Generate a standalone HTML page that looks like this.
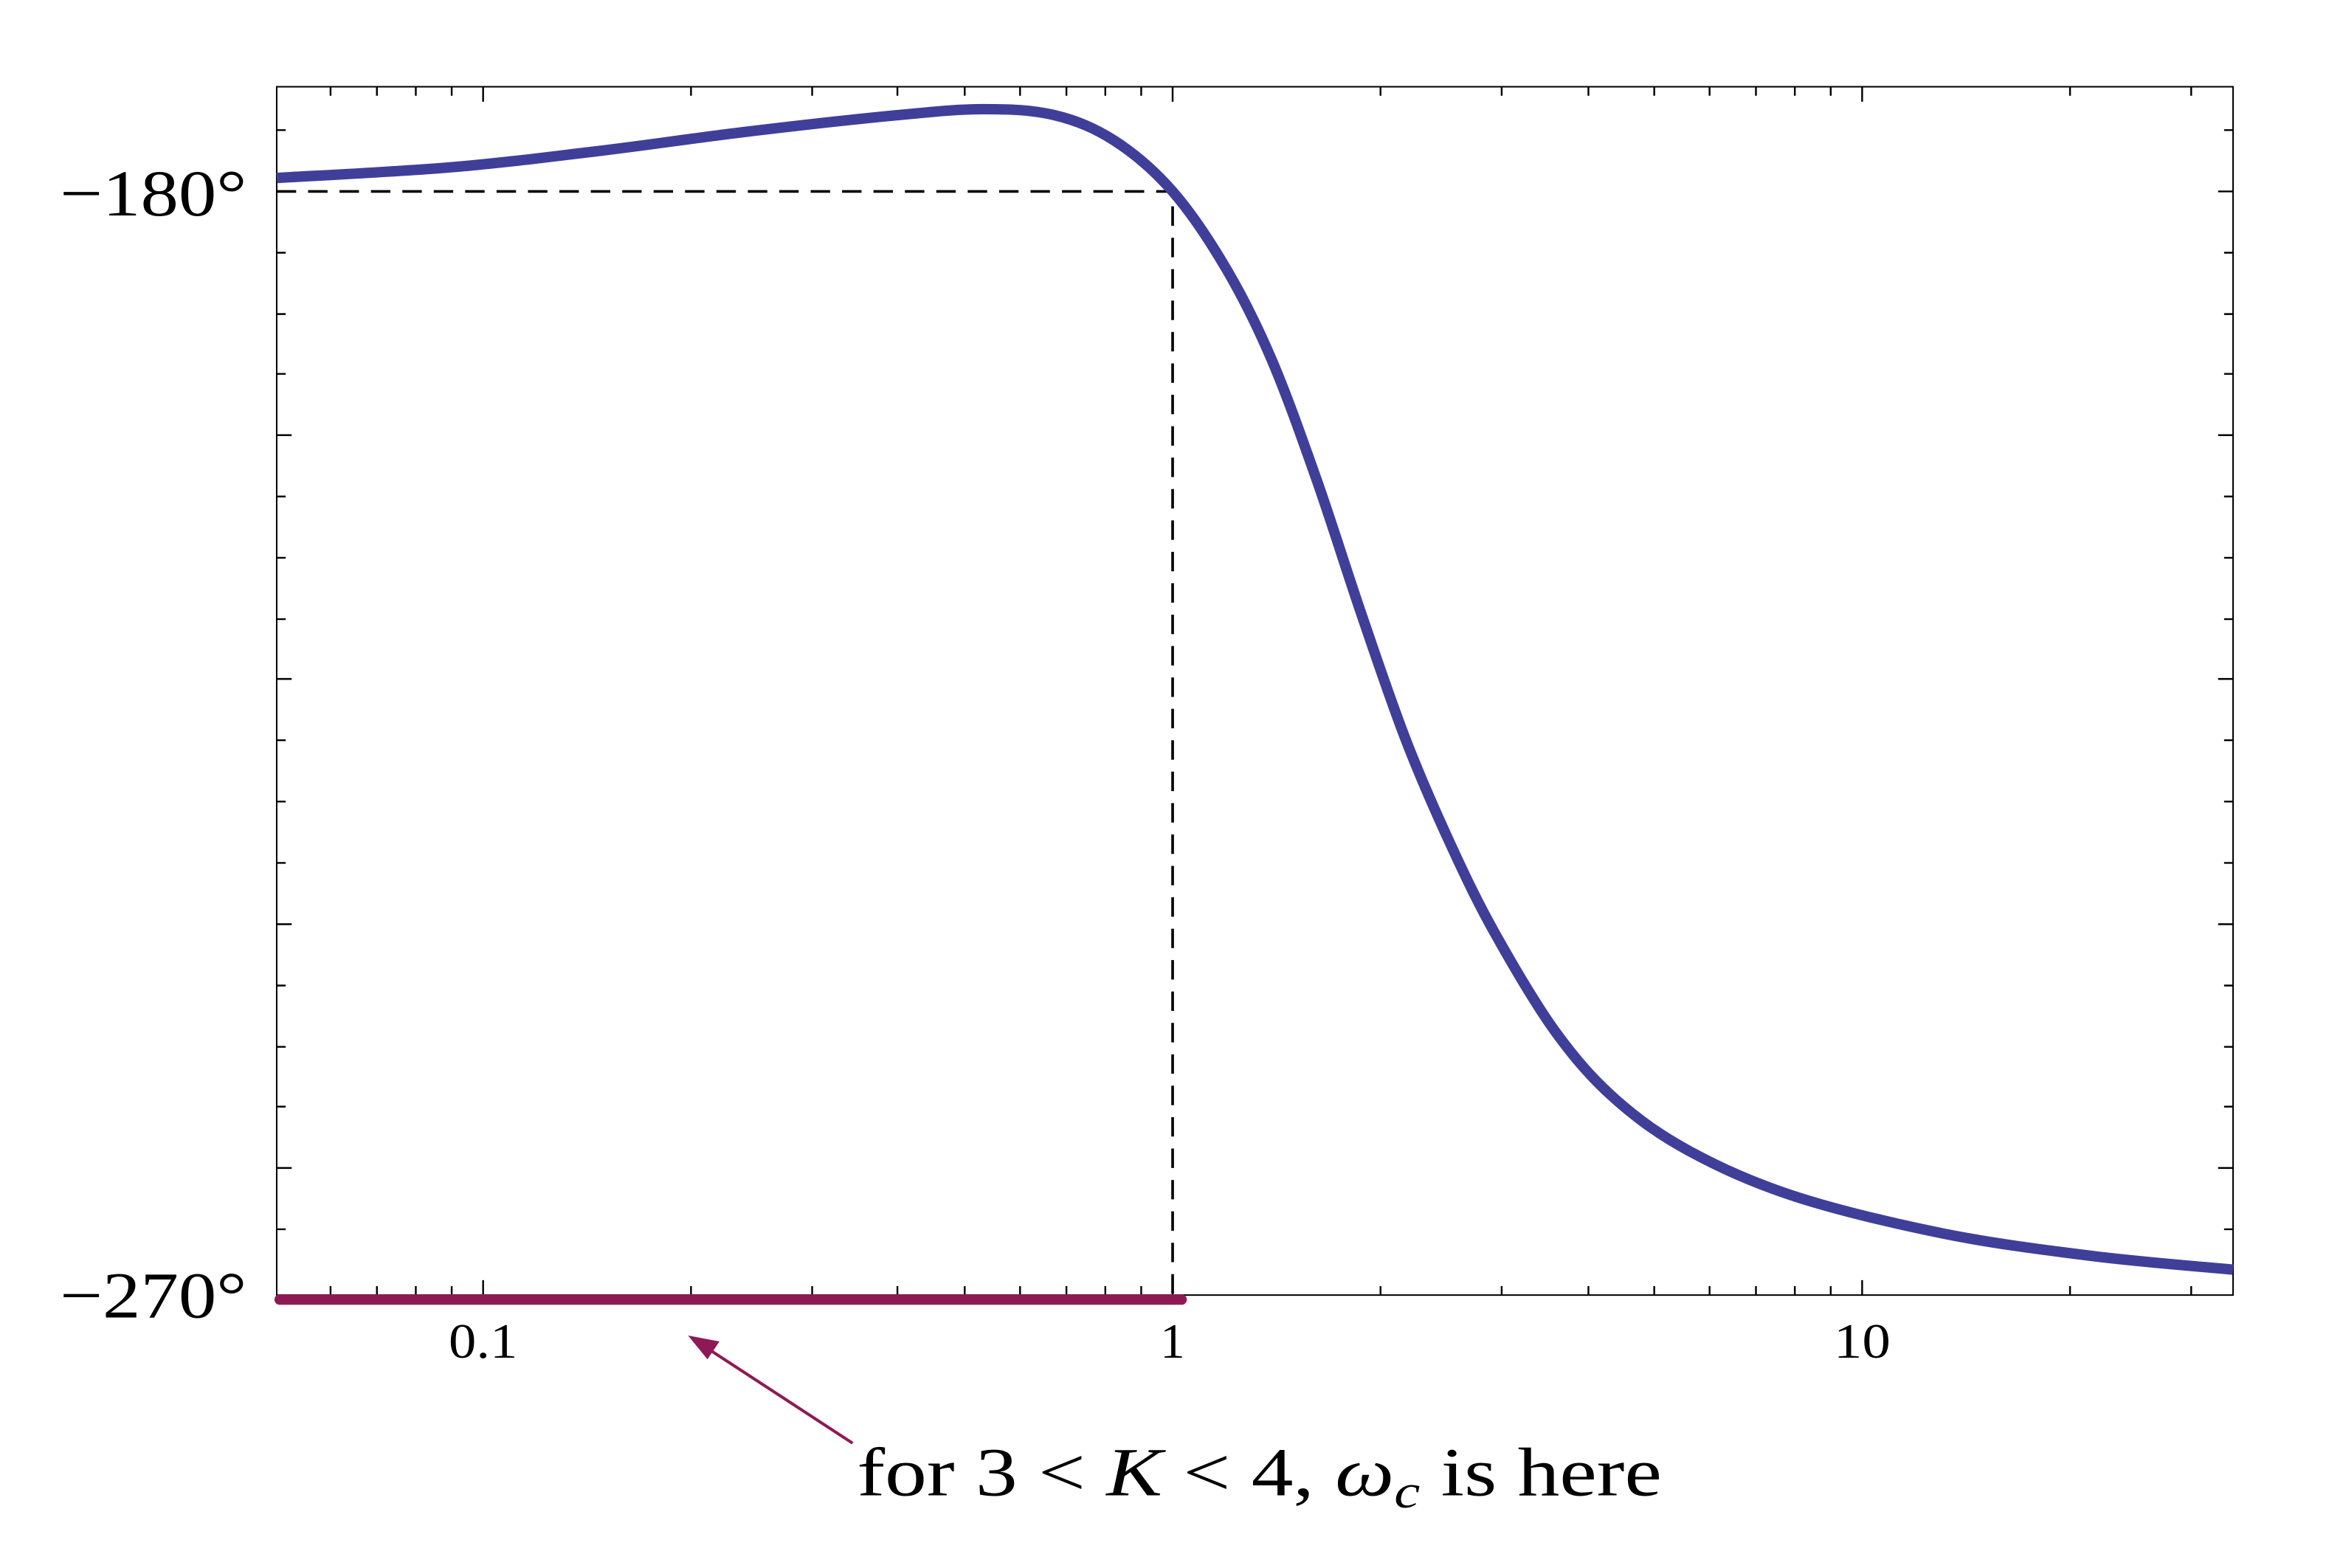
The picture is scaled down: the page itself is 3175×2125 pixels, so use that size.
<!DOCTYPE html>
<html><head><meta charset="utf-8"><style>html,body{margin:0;padding:0;background:#fff}svg{display:block}</style></head>
<body>
<svg width="3175" height="2125" viewBox="0 0 1566.5 1048.5" preserveAspectRatio="none" xmlns="http://www.w3.org/2000/svg" font-family="Liberation Serif, serif">
<rect x="185" y="58" width="1308" height="808" fill="none" stroke="#000" stroke-width="1"/>
<g stroke="#000" stroke-width="1.2">
<path d="M323 866v-10M784 866v-10M1245 866v-10M323 58v10M784 58v10M1245 58v10"/>
<path d="M221 866v-6M252 866v-6M278 866v-6M302 866v-6M462 866v-6M543 866v-6M600 866v-6M645 866v-6M682 866v-6M713 866v-6M739 866v-6M763 866v-6M923 866v-6M1004 866v-6M1062 866v-6M1106 866v-6M1143 866v-6M1174 866v-6M1200 866v-6M1224 866v-6M1384 866v-6M1465 866v-6"/>
<path d="M221 58v6M252 58v6M278 58v6M302 58v6M462 58v6M543 58v6M600 58v6M645 58v6M682 58v6M713 58v6M739 58v6M763 58v6M923 58v6M1004 58v6M1062 58v6M1106 58v6M1143 58v6M1174 58v6M1200 58v6M1224 58v6M1384 58v6M1465 58v6"/>
<path d="M185 128h10M185 291h10M185 454h10M185 618h10M185 781h10M1493 128h-10M1493 291h-10M1493 454h-10M1493 618h-10M1493 781h-10"/>
<path d="M185 87h6M185 169h6M185 210h6M185 250h6M185 332h6M185 373h6M185 414h6M185 495h6M185 536h6M185 577h6M185 659h6M185 700h6M185 740h6M185 822h6"/>
<path d="M1493 87h-6M1493 169h-6M1493 210h-6M1493 250h-6M1493 332h-6M1493 373h-6M1493 414h-6M1493 495h-6M1493 536h-6M1493 577h-6M1493 659h-6M1493 700h-6M1493 740h-6M1493 822h-6"/>
</g>
<path d="M185 128H784V866" fill="none" stroke="#000" stroke-width="1.8" stroke-dasharray="13 8"/>
<path id="curve" fill="none" stroke="#3f3f9a" stroke-width="7" stroke-linejoin="round" d="M185,119 L1493,849"/>
<line x1="187" y1="869" x2="790" y2="869" stroke="#8e1a55" stroke-width="7" stroke-linecap="round"/>
<line x1="570" y1="965" x2="472" y2="901" stroke="#8e1a55" stroke-width="2"/>
<polygon points="460,893 481,897 473,909" fill="#8e1a55"/>
<g font-size="33" text-anchor="middle">
<text x="323" y="908" textLength="46" lengthAdjust="spacingAndGlyphs">0.1</text><text x="784" y="908">1</text><text x="1245" y="908" textLength="38" lengthAdjust="spacingAndGlyphs">10</text>
</g>
<g font-size="44">
<text x="40" y="144" textLength="125" lengthAdjust="spacingAndGlyphs">−180°</text><text x="40" y="881" textLength="125" lengthAdjust="spacingAndGlyphs">−270°</text>
</g>
<text x="573" y="1000" font-size="46" textLength="538" lengthAdjust="spacingAndGlyphs">for 3 &lt; <tspan font-style="italic">K</tspan> &lt; 4, <tspan font-style="italic">ω</tspan><tspan font-style="italic" font-size="32" dy="8">c</tspan><tspan dy="-8"> is here</tspan></text>
</svg>
<script>
(function(){
var p=[[185,119],[300,112],[400,101],[500,88],[600,77],[658,73],[705,77],[745,94],[784,128],[820,180],[850,240],[880,320],[910,410],[940,495],[970,565],[1000,625],[1040,690],[1080,735],[1130,770],[1200,800],[1300,825],[1400,840],[1493,849]];
var d="M"+p[0][0]+","+p[0][1];
for(var i=0;i<p.length-1;i++){
var p0=p[Math.max(0,i-1)],p1=p[i],p2=p[i+1],p3=p[Math.min(p.length-1,i+2)];
var c1x=p1[0]+(p2[0]-p0[0])/6,c1y=p1[1]+(p2[1]-p0[1])/6;
var c2x=p2[0]-(p3[0]-p1[0])/6,c2y=p2[1]-(p3[1]-p1[1])/6;
d+=" C"+c1x.toFixed(1)+","+c1y.toFixed(1)+" "+c2x.toFixed(1)+","+c2y.toFixed(1)+" "+p2[0]+","+p2[1];
}
document.getElementById("curve").setAttribute("d",d);
})();
</script>
</body></html>
